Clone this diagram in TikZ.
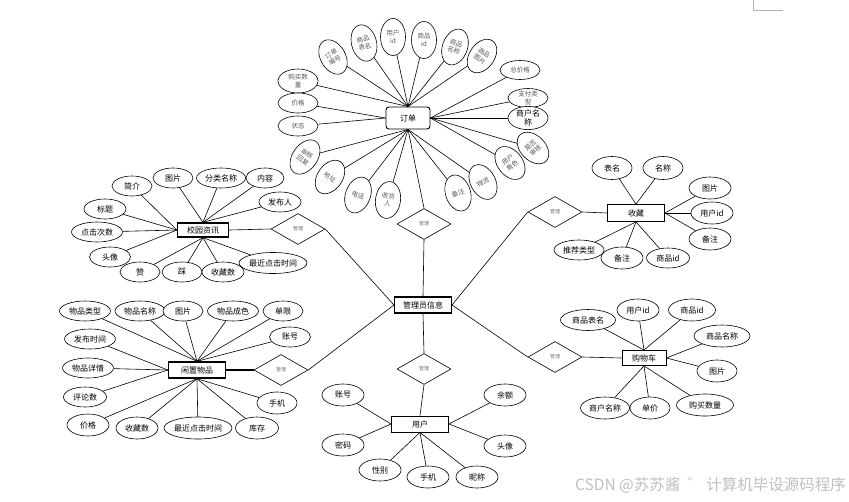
\documentclass[tikz,border=0pt]{standalone}
\usepackage{fontspec}
\newfontfamily\cjk{Noto Sans CJK SC}
\usetikzlibrary{shapes.geometric}
\begin{document}
\begin{tikzpicture}[x=1pt,y=-1pt,
  every node/.style={font=\cjk\fontsize{8}{9}\selectfont},
  ent/.style={draw, rectangle, fill=white, inner sep=0pt, line width=0.9pt, minimum height=16pt},
  attr/.style={draw, ellipse, fill=white, inner sep=0pt, minimum width=40pt, minimum height=20pt, line width=0.6pt, align=center},
  oattr/.style={attr, font=\cjk\fontsize{6.5}{7.5}\selectfont, text=black!65, minimum width=25pt, minimum height=37pt},
  hattr/.style={attr, font=\cjk\fontsize{6.5}{7.5}\selectfont, text=black!65, minimum width=40pt, minimum height=20pt},
  rel/.style={draw, diamond, aspect=1.7, fill=white, inner sep=0pt, minimum width=54pt, minimum height=31pt, font=\cjk\fontsize{5}{6}\selectfont, text=black!55, line width=0.6pt},
  lk/.style={line width=0.6pt}
]
\useasboundingbox (0,0) rectangle (849,501);
\draw[black!30, line width=0.8pt] (753,0) -- (753,10) -- (783,10);

% ---------- entities ----------
\node[ent, rounded corners=3pt, minimum width=44pt, minimum height=22pt] (dd) at (408,118) {订单};
\node[ent, line width=1.4pt, minimum width=51pt, minimum height=14pt] (xy) at (203,230) {校园资讯};
\node[ent, line width=1.1pt, minimum width=57pt] (gl) at (423,305) {管理员信息};
\node[ent, minimum width=57pt] (yh) at (420,424) {用户};
\node[ent, line width=0.8pt, minimum width=57pt, minimum height=17pt] (sc) at (636,213) {收藏};
\node[ent, minimum width=44pt, minimum height=15pt] (gw) at (644,358) {购物车};
\node[ent, line width=1.4pt, minimum width=57pt] (xz) at (197,370) {闲置物品};

% ---------- relationships ----------
\node[rel] (r1) at (424,224) {管理};
\node[rel] (r2) at (424,369) {管理};
\node[rel] (r3) at (298,229) {管理};
\node[rel] (r4) at (281,370) {管理};
\node[rel] (r5) at (555,212) {管理};
\node[rel] (r6) at (555,357) {管理};

\draw[lk] (dd.south) -- (r1.north);
\draw[lk] (r1.south) -- (gl.north);
\draw[lk] (gl.south) -- (r2.north);
\draw[lk] (r2.south) -- (yh.north);
\draw[lk] (xy.east) -- (r3.west);
\draw[lk] (r3.east) -- (gl.west);
\draw[line width=1.5pt] (xz.east) -- (r4.west);
\draw[lk] (r4.east) -- (gl.west);
\draw[lk] (sc.west) -- (r5.east);
\draw[lk] (r5.west) -- (gl.east);
\draw[lk] (gw.west) -- (r6.east);
\draw[lk] (r6.west) -- (gl.east);

% ---------- 订单 attributes ----------
\node[oattr, rotate=30] (o1) at (333,57) {订单\\编号};
\node[oattr, rotate=15] (o2) at (364,43) {商品\\表名};
\node[oattr] (o3) at (393,37) {用户\\id};
\node[oattr] (o4) at (424,40) {商品\\id};
\node[oattr, rotate=-20] (o5) at (455,47) {商品\\名称};
\node[oattr, rotate=-35] (o6) at (482,56) {商品\\图片};
\node[hattr, minimum height=19pt] (o7) at (520,70) {总价格};
\node[hattr, minimum height=19pt] (o8) at (528,98) {支付类\\型};
\node[attr, minimum height=22pt] (o9) at (528,118) {商户名\\称};
\node[hattr, minimum height=24pt] (o10) at (298,81) {购买数\\量};
\node[hattr] (o11) at (298,103) {价格};
\node[hattr] (o12) at (298,126) {状态};
\node[oattr, rotate=-35, minimum height=38pt] (o13) at (305,157) {审核\\回复};
\node[oattr, rotate=-35] (o14) at (330,177) {地址};
\node[oattr, rotate=-20] (o15) at (358,195) {电话};
\node[oattr, rotate=-8] (o16) at (388,200) {收货\\人};
\node[oattr, rotate=18] (o17) at (458,193) {备注};
\node[oattr, rotate=28] (o18) at (483,182) {物流};
\node[oattr, rotate=38] (o19) at (510,163) {用户\\角色};
\node[oattr, rotate=45] (o20) at (533,148) {是否\\审核};
\foreach \a in {o1,o2,o3,o4,o5,o6,o10} \draw[lk] (\a) -- (dd.north);
\foreach \a in {o7,o8,o9,o19,o20} \draw[lk] (\a) -- (dd.east);
\foreach \a in {o11,o12} \draw[lk] (\a) -- (dd.west);
\foreach \a in {o13,o14,o15,o16,o17,o18} \draw[lk] (\a) -- (dd.south);

% ---------- 校园资讯 attributes ----------
\node[attr] (x1) at (132,186) {简介};
\node[attr] (x2) at (173,178) {图片};
\node[attr, minimum width=49pt] (x3) at (221,178) {分类名称};
\node[attr, minimum width=38pt] (x4) at (265,178) {内容};
\node[attr, minimum width=42pt] (x5) at (280,202) {发布人};
\node[attr, minimum width=42pt] (x6) at (105,209) {标题};
\node[attr, minimum width=51pt] (x7) at (97,232) {点击次数};
\node[attr, minimum width=41pt] (x8) at (110,257) {头像};
\node[attr] (x9) at (140,272) {赞};
\node[attr] (x10) at (182,272) {踩};
\node[attr, minimum width=42pt] (x11) at (223,272) {收藏数};
\node[attr, minimum width=65pt, minimum height=21pt] (x12) at (273,263) {最近点击时间};
\foreach \a in {x1,x6,x7,x8} \draw[lk] (\a) -- (xy.west);
\foreach \a in {x2,x3,x4,x5} \draw[lk] (\a) -- (xy.north);
\foreach \a in {x9,x10,x11,x12} \draw[lk] (\a) -- (xy.south);

% ---------- 闲置物品 attributes ----------
\node[attr, minimum width=51pt] (z1) at (85,311) {物品类型};
\node[attr, minimum width=50pt] (z2) at (140,311) {物品名称};
\node[attr] (z3) at (183,311) {图片};
\node[attr, minimum width=51pt] (z4) at (233,311) {物品成色};
\node[attr] (z5) at (283,311) {单限};
\node[attr, minimum width=41pt] (z6) at (290,337) {账号};
\node[attr, minimum width=51pt] (z7) at (90,339) {发布时间};
\node[attr, minimum width=51pt] (z8) at (88,368) {物品详情};
\node[attr, minimum width=43pt] (z9) at (85,397) {评论数};
\node[attr, minimum width=42pt, minimum height=22pt] (z10) at (88,425) {价格};
\node[attr, minimum width=42pt, minimum height=22pt] (z11) at (137,428) {收藏数};
\node[attr, minimum width=68pt, minimum height=22pt] (z12) at (198,428) {最近点击时间};
\node[attr, minimum width=43pt, minimum height=22pt] (z13) at (257,428) {库存};
\node[attr, minimum height=22pt] (z14) at (277,403) {手机};
\foreach \a in {z1,z2,z3,z4,z5,z6} \draw[lk] (\a) -- (xz.north);
\foreach \a in {z7,z8,z9} \draw[lk] (\a) -- (xz.west);
\foreach \a in {z10,z11,z12,z13,z14} \draw[lk] (\a) -- (xz.south);

% ---------- 收藏 attributes ----------
\node[attr, minimum height=23pt] (s1) at (612,168) {表名};
\node[attr, minimum height=23pt] (s2) at (663,168) {名称};
\node[attr, minimum width=42pt, minimum height=22pt] (s3) at (710,188) {图片};
\node[attr, minimum width=42pt, minimum height=22pt] (s4) at (712,213) {用户id};
\node[attr, minimum width=42pt, minimum height=22pt] (s5) at (710,239) {备注};
\node[attr, minimum width=50pt] (s6) at (579,250) {推荐类型};
\node[attr, minimum width=42pt, minimum height=22pt] (s7) at (622,258) {备注};
\node[attr, minimum width=43pt] (s8) at (668,258) {商品id};
\foreach \a in {s1,s2} \draw[lk] (\a) -- (sc.north);
\foreach \a in {s3,s4,s5} \draw[lk] (\a) -- (sc.east);
\foreach \a in {s6,s7,s8} \draw[lk] (\a) -- (sc.south);

% ---------- 购物车 attributes ----------
\node[attr, minimum width=55pt, minimum height=21pt] (g1) at (588,320) {商品表名};
\node[attr, minimum width=42pt, minimum height=22pt] (g2) at (638,310) {用户id};
\node[attr, minimum width=47pt, minimum height=22pt] (g3) at (692,310) {商品id};
\node[attr, minimum width=56pt, minimum height=22pt] (g4) at (722,336) {商品名称};
\node[attr, minimum height=22pt] (g5) at (717,371) {图片};
\node[attr, minimum width=57pt, minimum height=22pt] (g6) at (705,405) {购买数量};
\node[attr, minimum width=49pt, minimum height=22pt] (g8) at (605,408) {商户名称};
\node[attr, minimum height=22pt] (g7) at (650,408) {单价};
\foreach \a in {g1,g2,g3} \draw[lk] (\a) -- (gw.north);
\foreach \a in {g4,g5} \draw[lk] (\a) -- (gw.east);
\foreach \a in {g6,g7,g8} \draw[lk] (\a) -- (gw.south);

% ---------- 用户 attributes ----------
\node[attr, minimum width=42pt, minimum height=22pt] (u1) at (343,395) {账号};
\node[attr, minimum width=42pt, minimum height=22pt] (u2) at (505,395) {余额};
\node[attr, minimum width=42pt, minimum height=22pt] (u3) at (343,445) {密码};
\node[attr, minimum width=42pt, minimum height=22pt] (u4) at (505,446) {头像};
\node[attr, minimum width=42pt, minimum height=22pt] (u5) at (380,470) {性别};
\node[attr, minimum width=42pt, minimum height=22pt] (u6) at (428,477) {手机};
\node[attr, minimum width=42pt, minimum height=22pt] (u7) at (477,477) {昵称};
\foreach \a in {u1,u3} \draw[lk] (\a) -- (yh.west);
\foreach \a in {u2,u4} \draw[lk] (\a) -- (yh.east);
\foreach \a in {u5,u6,u7} \draw[lk] (\a) -- (yh.south);

% ---------- watermark ----------
\node[anchor=east, text=black!25, font=\cjk\fontsize{15.5}{16}\selectfont, inner sep=0pt] (wm) at (846,485) {CSDN @苏苏酱\ \ ゛\ 计算机毕设源码程序};
\end{tikzpicture}
\end{document}
